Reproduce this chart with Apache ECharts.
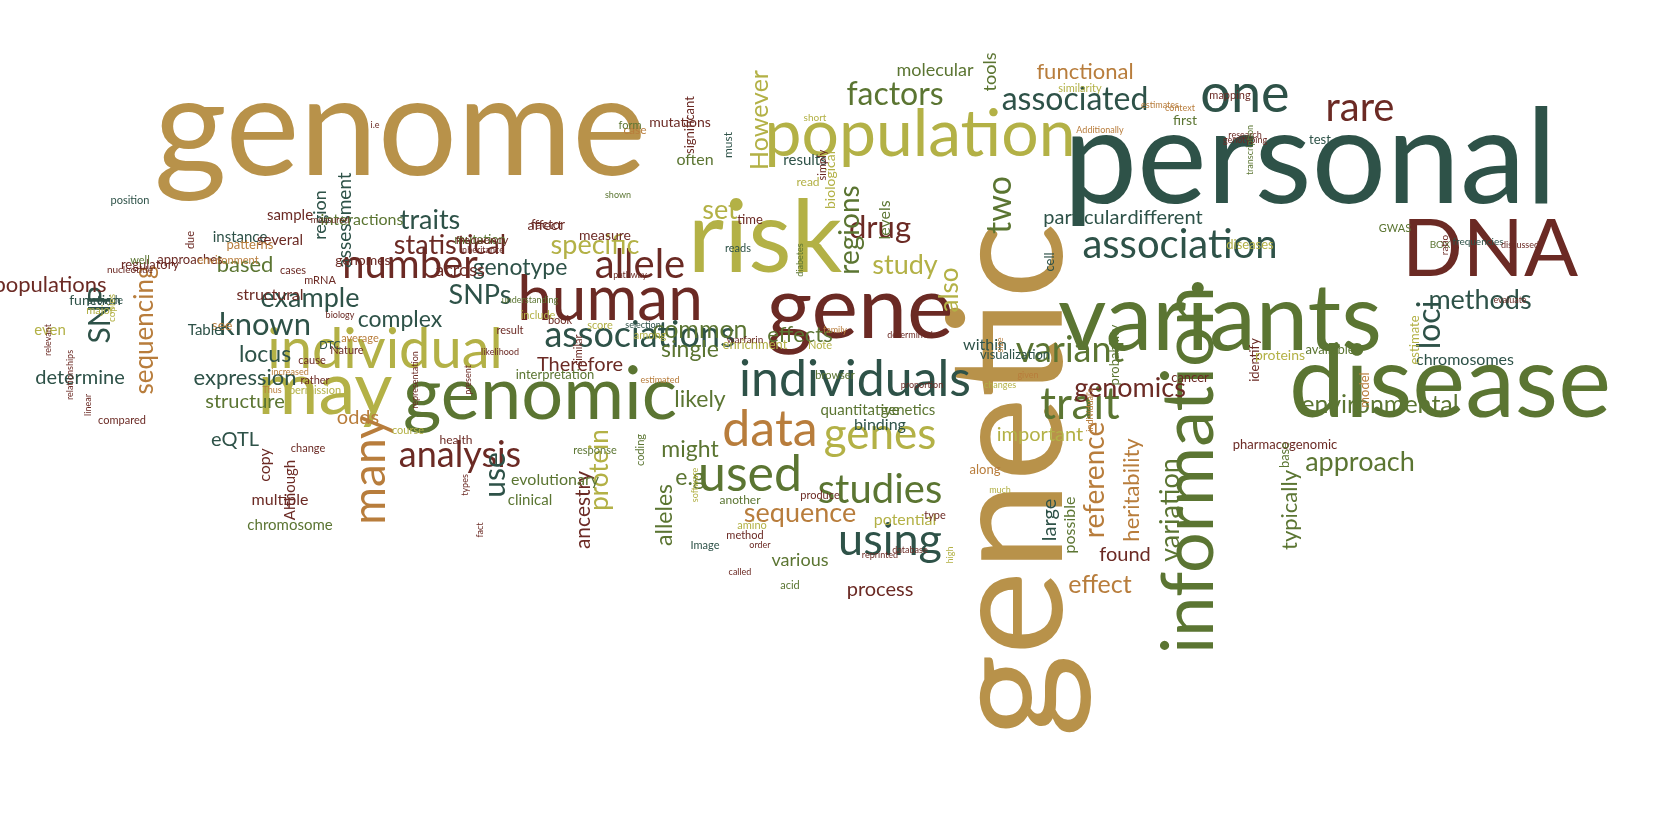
<!DOCTYPE html>
<html>
<head>
<meta charset="utf-8">
<script src="https://cdn.jsdelivr.net/npm/echarts@6/dist/echarts.min.js"></script>
<title>word cloud</title>
<style>
  html, body, #main { width: 100%; height: 100%; margin: 0; background: #fff; }
</style>
</head>
<body>
<div id="main"></div>
<script>
// words, centre positions (picture pixels), weight (font size), vertical flag, colour group
var words = ['genome','personal','genetic','information','variants','disease','DNA','risk','population','gene',
  'human','genomic','may','individual','individuals','associations','association','many','data','genes',
  'used','studies','using','analysis','trait','variant','one','rare','associated','factors',
  'functional','allele','number','example','known','sequencing','SNP','methods','loci','environmental',
  'approach','genomics','reference','variation','heritability','effect','sequence','protein','use','drug',
  'regions','two','study','also','However','set','specific','traits','statistical','genotype',
  'SNPs','complex','locus','based','expression','structure','determine','populations','likely','might',
  'e.g','common','single','effects','Therefore','odds','eQTL','important','particular','different',
  'molecular','tools','significant','large','found','typically','alleles','ancestry','process','various',
  'assessment','region','across','often','results','biological','levels','binding','within','possible',
  'quantitative','genetics','potential','evolutionary','clinical','copy','multiple','chromosome','Although','see',
  'interactions','structural','instance','sample','several','patterns','approaches','regulatory','function','even',
  'Table','chromosomes','estimate','model','available','identify','diseases','pharmacogenomic','base','cell',
  'visualization','probability','cancer','mapping','test','GWAS','BOX','ratio','frequencies','first',
  'research','genotyping','context','estimates','similarity','short','simply','must','mutations','case',
  'measure','affect','factor','mutation','frequency','reads','time','read','interpretation','genomes',
  'mRNA','cases','nucleotide','position','environment','due','well','provide','major','health',
  'response','coding','another','method','Image','enrichment','proteins','warfarin','browser','along',
  'produce','amino','acid','Note','result','include','book','score','similar','among',
  'DTC','Nature','cause','rather','average','copies','relevant','relationships','linear','compared',
  'Thus','increased','biology','permission','change','course','called','order','type','database',
  'high','much','reprinted','given','proportion','size','discussed','evaluate','Additionally','changes',
  'determined','family','diabetes','pathway','shown','form','transcription','i.e','measured','inheritance',
  'understanding','selection','software','present','types','fact','representation','individual\'s','estimated','likelihood'];
var xs = [400,1310,1010,1190,1220,1450,1490,765,920,860,
  610,540,325,385,855,640,1180,370,770,880,
  750,880,890,460,1080,1070,1245,1360,1075,895,
  1085,640,410,310,265,145,100,1480,1430,1380,
  1360,1130,1095,1170,1132,1100,800,600,495,880,
  850,1000,905,950,760,720,595,430,450,520,
  480,400,265,245,245,245,80,50,700,690,
  690,700,690,800,580,358,235,1040,1085,1165,
  935,990,690,1050,1125,1290,665,583,880,800,
  345,320,460,695,805,830,885,880,985,1070,
  860,908,905,555,530,265,280,290,290,222,
  362,270,240,290,280,250,190,150,95,50,
  205,1465,1415,1365,1330,1255,1250,1285,1285,1050,
  1015,1115,1190,1230,1320,1395,1440,1445,1478,1185,
  1245,1245,1180,1160,1080,815,822,728,680,635,
  605,545,548,480,482,738,750,808,555,363,
  320,293,130,130,228,190,140,105,100,456,
  595,640,740,745,705,755,1280,745,835,985,
  820,752,790,820,510,538,560,600,578,650,
  330,347,312,315,360,112,48,70,88,122,
  272,290,340,315,308,408,740,760,935,910,
  950,1000,880,1028,922,1000,1520,1510,1100,1000,
  910,835,800,630,618,630,1250,375,330,482,
  530,643,695,468,465,480,415,1090,660,500];
var ys = [130,160,480,470,320,385,250,240,135,310,
  300,395,390,350,380,335,245,470,430,435,
  475,490,540,455,405,350,95,108,100,95,
  72,265,265,298,325,330,315,300,325,405,
  462,388,480,510,490,585,513,470,475,228,
  230,205,265,290,120,210,245,220,245,268,
  295,320,355,265,378,402,378,285,400,450,
  478,330,350,335,365,418,440,435,218,218,
  70,72,125,520,555,510,515,510,590,560,
  220,215,270,160,160,180,220,425,345,525,
  410,410,520,480,500,465,500,525,490,325,
  220,295,237,215,240,245,260,265,300,330,
  330,360,340,390,350,360,245,445,455,262,
  355,355,378,95,140,228,245,245,242,120,
  135,140,108,105,88,118,165,145,122,130,
  235,225,225,240,240,248,220,182,375,260,
  280,270,270,200,260,240,260,300,310,440,
  450,450,500,535,545,345,355,340,375,470,
  495,525,585,345,330,315,320,325,350,335,
  345,350,360,380,338,308,340,375,405,420,
  390,372,315,390,448,430,572,545,515,550,
  555,490,555,375,385,345,245,300,130,385,
  335,330,260,275,195,125,150,125,220,250,
  300,325,485,380,485,530,380,410,380,352];
var weights = [140,132,160,72,94,100,80,100,66,88,
  62,74,74,56,50,36,40,46,50,44,
  50,40,45,36,44,36,54,40,32,32,
  22,40,40,27,31,26,30,27,32,25,
  27,27,28,27,22,25,27,26,30,31,
  28,34,27,26,25,27,27,27,27,23,
  27,23,23,22,22,20,20,22,23,23,
  23,25,23,22,20,20,20,20,20,20,
  18,18,13,20,20,22,23,21,20,18,
  19,18,18,16,15,14,16,16,16,16,
  15,15,16,16,15,16,16,15,15,14,
  16,16,15,15,15,13,13,13,14,15,
  15,16,13,13,13,13,13,13,13,13,
  13,13,13,11,13,11,10,10,10,14,
  9,9,9,9,11,10,11,12,14,12,
  14,14,13,13,12,11,13,12,13,14,
  11,11,10,11,11,11,11,11,11,12,
  11,11,12,11,11,13,14,10,11,13,
  11,11,11,11,11,11,11,11,11,11,
  11,11,11,11,11,10,9,9,9,11,
  9,9,9,11,11,11,9,9,11,9,
  9,9,9,9,9,9,9,9,9,9,
  9,9,9,9,9,11,9,9,9,9,
  9,9,9,9,9,9,9,9,9,9];
var vertical = ['genetic','information','many','sequencing','SNP','loci','reference','variation','heritability','protein',
  'use','regions','two','also','However','tools','significant','large','typically','alleles','ancestry','assessment',
  'region','biological','levels','possible','estimate','model','identify','cell','probability','ratio','diabetes',
  'must','simply','similar','relationships','relevant','due','linear','copies','representation','types','present',
  'software','physiology','coding','Although','copy','size','individual\'s','transcription','base','high','fact'];
var colorIdx = [0,1,0,2,2,2,3,4,4,3,
  3,2,4,4,1,1,1,5,5,4,
  2,2,1,3,2,2,1,3,1,2,
  5,3,3,1,1,5,1,1,1,2,
  2,3,5,2,5,5,5,4,1,3,
  2,2,4,4,4,4,4,1,3,1,
  1,1,1,2,1,2,1,3,2,2,
  2,2,2,2,3,5,1,4,1,1,
  2,2,3,1,3,2,2,3,3,2,
  1,1,3,2,1,4,2,1,1,2,
  2,2,4,2,2,3,3,2,3,5,
  2,3,1,3,3,5,3,3,1,4,
  1,1,4,5,2,3,4,3,2,1,
  1,2,3,3,1,2,2,3,1,2,
  3,3,5,5,4,4,3,1,3,5,
  3,3,3,2,3,1,3,4,2,3,
  3,3,3,1,5,3,2,1,4,3,
  2,2,2,3,1,4,4,3,2,5,
  3,4,2,4,3,4,3,4,3,4,
  1,3,3,3,5,4,3,3,3,3,
  5,5,3,4,3,4,3,3,3,3,
  4,4,3,5,3,5,3,3,5,4,
  3,5,2,3,2,2,2,3,3,3,
  2,1,4,3,3,3,3,5,5,3];
var palette = ['#b8924a', '#2e5248', '#5b7532', '#6b2a24', '#b3b146', '#b87d3c'];

var points = words.map(function (w, i) {
  return {
    name: w,
    value: [xs[i], ys[i], weights[i]],
    label: {
      rotate: vertical.indexOf(w) >= 0 ? 90 : 0,
      fontSize: weights[i],
      color: palette[colorIdx[i] || 0]
    }
  };
});

var myChart = echarts.init(document.getElementById('main'));
var option = {
  animation: false,
  grid: { left: 0, right: 0, top: 0, bottom: 0 },
  xAxis: { type: 'value', min: 0, max: 1670, show: false },
  yAxis: { type: 'value', min: 0, max: 835, inverse: true, show: false },
  series: [{
    type: 'scatter',
    symbolSize: 0,
    itemStyle: { opacity: 1 },
    data: points,
    labelLayout: { hideOverlap: false },
    label: {
      show: true,
      position: 'inside',
      formatter: '{b}',
      fontFamily: 'Lato',
      opacity: 1,
      align: 'center',
      verticalAlign: 'middle'
    }
  }]
};
myChart.setOption(option);
window.onresize = function () { myChart.resize(); };
</script>
</body>
</html>
